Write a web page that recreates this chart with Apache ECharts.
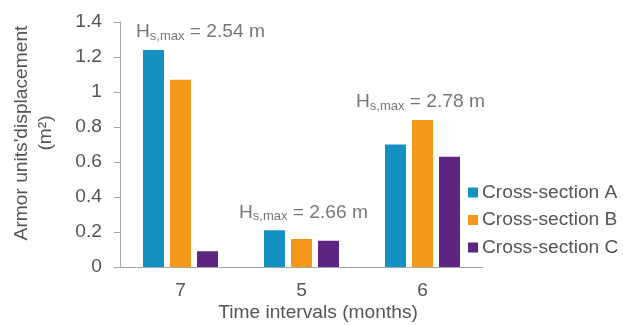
<!DOCTYPE html>
<html>
<head>
<meta charset="utf-8">
<script src="https://cdn.jsdelivr.net/npm/echarts@6/dist/echarts.min.js"></script>
<style>
html,body{margin:0;padding:0;background:#fff;}
#chart{width:623px;height:326px;}
</style>
</head>
<body>
<div id="chart"></div>
<script>
const categories = ['7', '5', '6'];
const seriesNames = ['Cross-section A', 'Cross-section B', 'Cross-section C'];
const valuesA = [1.24, 0.21, 0.70];
const valuesB = [1.07, 0.16, 0.84];
const valuesC = [0.09, 0.15, 0.63];
const hsMax = ['2.54', '2.66', '2.78'];
const yTicks = { min: 0, max: 1.4, interval: 0.2 };

const FONT = '"Liberation Sans", Arial, Helvetica, sans-serif';
const TXT = '#555555';
const FS = 19.2;
const colors = ['#1591C1', '#F5971A', '#5D2683'];
const labelDx = [20, 2, -2];

const groupMax = categories.map((c, i) => Math.max(valuesA[i], valuesB[i], valuesC[i]));

const chart = echarts.init(document.getElementById('chart'), null, { renderer: 'canvas' });

const barSeries = [valuesA, valuesB, valuesC].map((vals, k) => ({
  name: seriesNames[k],
  type: 'bar',
  data: vals,
  barGap: '28.6%',
  barCategoryGap: '38%',
  itemStyle: { color: colors[k] }
}));

const annoSeries = {
  type: 'scatter',
  name: 'anno',
  symbolSize: 0,
  silent: true,
  data: categories.map((c, i) => ({
    value: [i, groupMax[i]],
    label: { offset: [labelDx[i], -18] }
  })),
  label: {
    show: true,
    position: 'inside',
    align: 'center',
    verticalAlign: 'middle',
    formatter: (p) => '{a|H}{b|s,max}{a| = ' + hsMax[p.dataIndex] + ' m}',
    rich: {
      a: { fontFamily: FONT, fontSize: FS, color: TXT, lineHeight: 21 },
      b: { fontFamily: FONT, fontSize: 13, color: TXT, lineHeight: 12, verticalAlign: 'bottom' }
    }
  }
};

chart.setOption({
  animation: false,
  backgroundColor: '#ffffff',
  grid: { left: 120, right: 140, top: 22, bottom: 59, containLabel: false },
  legend: {
    data: seriesNames,
    orient: 'vertical',
    left: 463,
    top: 178,
    itemWidth: 10,
    itemHeight: 10,
    itemGap: 8.5,
    icon: 'rect',
    textStyle: { fontFamily: FONT, fontSize: FS, color: TXT, padding: [0, 0, 0, -1] }
  },
  xAxis: {
    type: 'category',
    data: categories,
    axisLine: { lineStyle: { color: '#A6A6A6', width: 1 } },
    axisTick: { show: false },
    axisLabel: { fontFamily: FONT, fontSize: FS, color: TXT, margin: 14 }
  },
  yAxis: {
    type: 'value',
    min: yTicks.min,
    max: yTicks.max,
    interval: yTicks.interval,
    splitLine: { show: false },
    axisLine: { show: true, lineStyle: { color: '#A6A6A6', width: 1 } },
    axisTick: { show: true, length: 6, lineStyle: { color: '#A6A6A6' } },
    axisLabel: { fontFamily: FONT, fontSize: FS, color: TXT, margin: 18 }
  },
  graphic: [
    {
      type: 'text',
      x: 34, y: 133,
      rotation: Math.PI / 2,
      style: {
        text: "Armor units'displacement\n(m²)",
        fontFamily: FONT, fontSize: FS, fill: TXT,
        align: 'center', verticalAlign: 'middle', lineHeight: 24
      }
    },
    {
      type: 'text',
      x: 318, y: 313,
      style: {
        text: 'Time intervals (months)',
        fontFamily: FONT, fontSize: FS, fill: TXT,
        align: 'center', verticalAlign: 'middle'
      }
    }
  ],
  series: barSeries.concat([annoSeries])
});
</script>
</body>
</html>
